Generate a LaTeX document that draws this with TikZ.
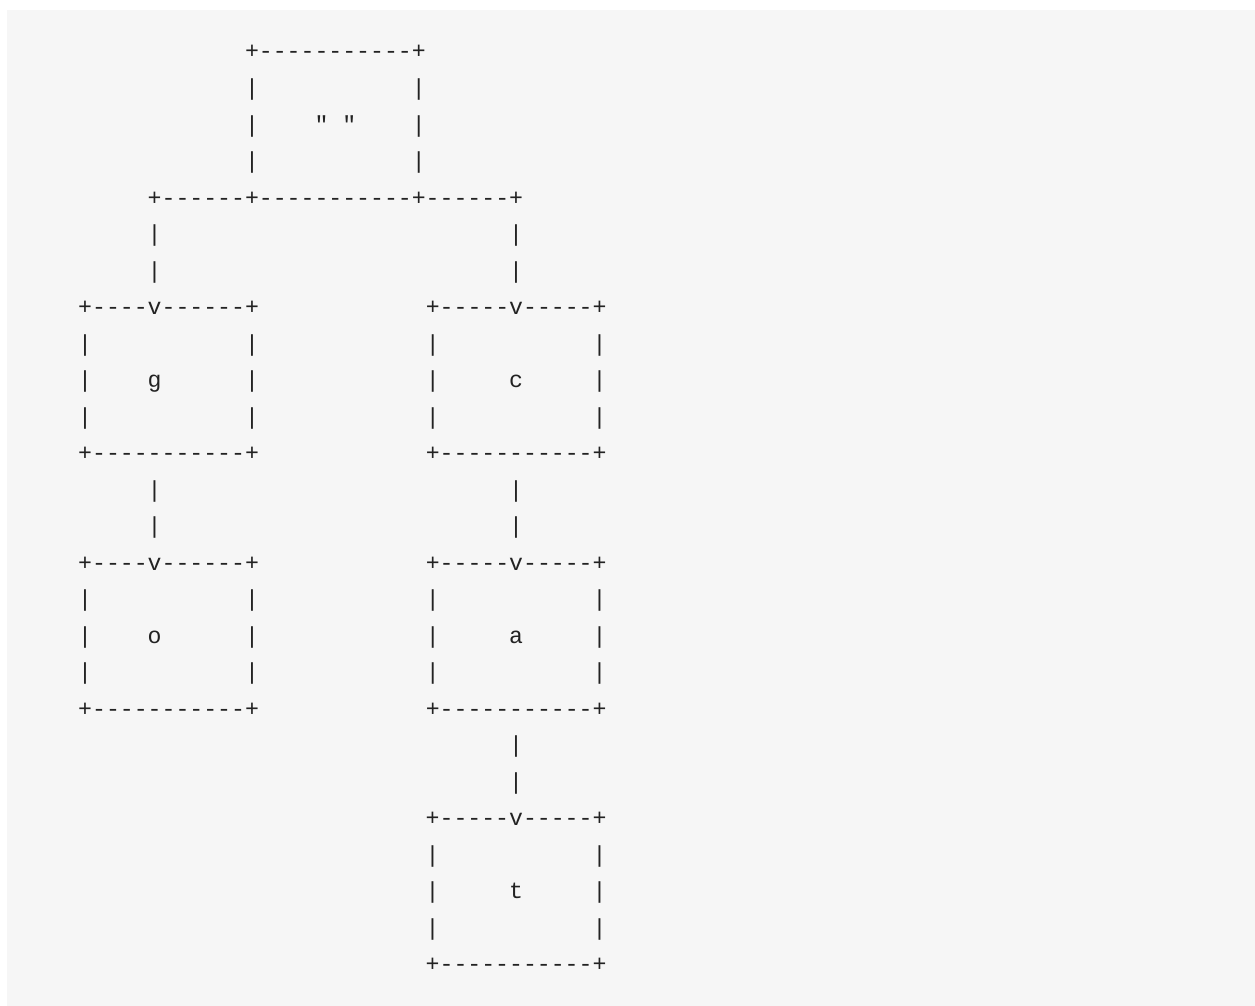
\documentclass[tikz,border=0pt]{standalone}
\usepackage{fontspec}
\setmonofont{Liberation Mono}
\definecolor{codebg}{HTML}{F6F6F6}
\definecolor{codefg}{HTML}{222222}
\tikzset{
  ascii/.style={anchor=base west, inner sep=0pt, text=codefg,
    font=\ttfamily\fontsize{23.17}{36.5}\selectfont},
}
\begin{document}
\begin{tikzpicture}[x=1pt,y=-1pt]
  \useasboundingbox (0,0) rectangle (1255,1006);
  \fill[codebg] (7,10) rectangle (1255,1006);
  % one node per text row: column/row/text
  \foreach \c/\r/\txt in {
      12/0/{+-----------+},
      12/1/{|~~~~~~~~~~~|},
      12/2/{|~~~~"~"~~~~|},
      12/3/{|~~~~~~~~~~~|},
      5/4/{+------+-----------+------+},
      5/5/{|~~~~~~~~~~~~~~~~~~~~~~~~~|},
      5/6/{|~~~~~~~~~~~~~~~~~~~~~~~~~|},
      0/7/{+----v------+~~~~~~~~~~~~+-----v-----+},
      0/8/{|~~~~~~~~~~~|~~~~~~~~~~~~|~~~~~~~~~~~|},
      0/9/{|~~~~g~~~~~~|~~~~~~~~~~~~|~~~~~c~~~~~|},
      0/10/{|~~~~~~~~~~~|~~~~~~~~~~~~|~~~~~~~~~~~|},
      0/11/{+-----------+~~~~~~~~~~~~+-----------+},
      5/12/{|~~~~~~~~~~~~~~~~~~~~~~~~~|},
      5/13/{|~~~~~~~~~~~~~~~~~~~~~~~~~|},
      0/14/{+----v------+~~~~~~~~~~~~+-----v-----+},
      0/15/{|~~~~~~~~~~~|~~~~~~~~~~~~|~~~~~~~~~~~|},
      0/16/{|~~~~o~~~~~~|~~~~~~~~~~~~|~~~~~a~~~~~|},
      0/17/{|~~~~~~~~~~~|~~~~~~~~~~~~|~~~~~~~~~~~|},
      0/18/{+-----------+~~~~~~~~~~~~+-----------+},
      31/19/{|},
      31/20/{|},
      25/21/{+-----v-----+},
      25/22/{|~~~~~~~~~~~|},
      25/23/{|~~~~~t~~~~~|},
      25/24/{|~~~~~~~~~~~|},
      25/25/{+-----------+}}
    \node[ascii] (row\r) at (78+13.9*\c, 59+36.5*\r) {\txt};
\end{tikzpicture}
\end{document}
